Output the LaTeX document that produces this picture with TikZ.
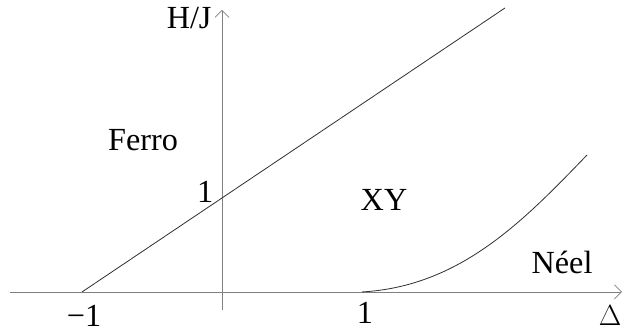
\documentclass[tikz,border=0pt]{standalone}
\usepackage{fontspec}
\setmainfont{Liberation Serif}
\usetikzlibrary{arrows.meta}

\begin{document}
\begin{tikzpicture}[every node/.style={font=\fontsize{27.5}{31}\selectfont}, x=4.2cm, y=2.82cm]
	\useasboundingbox (-1.586,-0.4255) rectangle (2.857,3.106);
	\coordinate (xstart) at (-1.514,0);
	\coordinate (xend) at (2.857,0);
	\coordinate (ystart) at (0,-0.19);
	\coordinate (yend) at (0,3.0);
	\coordinate (lstart) at (-1,0);
	\coordinate (lend) at (2.021,3.021);
	\coordinate (cstart) at (1,0);
	\coordinate (cend) at (2.607,1.457);
	\draw[-{Straight Barb[length=6pt]}, gray, line width=0.6pt] (xstart) -- (xend);
	\draw[-{Straight Barb[length=6pt]}, gray, line width=0.6pt] (ystart) -- (yend);
	\draw[black!80, line width=0.7pt] (lstart) -- (lend);
	\draw[black!80, line width=0.7pt] (cstart) .. controls (1.7,0.06) and (2.15,0.75) .. (cend);
	\node (hj) at (-0.235,2.91) {H/J};
	\node[inner sep=0pt, anchor=east] (delta) at (2.855,-0.255) {$\Delta$};
	\node (ferro) at (-0.564,1.617) {Ferro};
	\node (xy) at (1.157,0.979) {XY};
	\node (neel) at (2.429,0.319) {Néel};
	\node (yone) at (-0.121,1.064) {1};
	\node (xmone) at (-0.986,-0.25) {−1};
	\node (xone) at (1.02,-0.223) {1};
\end{tikzpicture}
\end{document}
